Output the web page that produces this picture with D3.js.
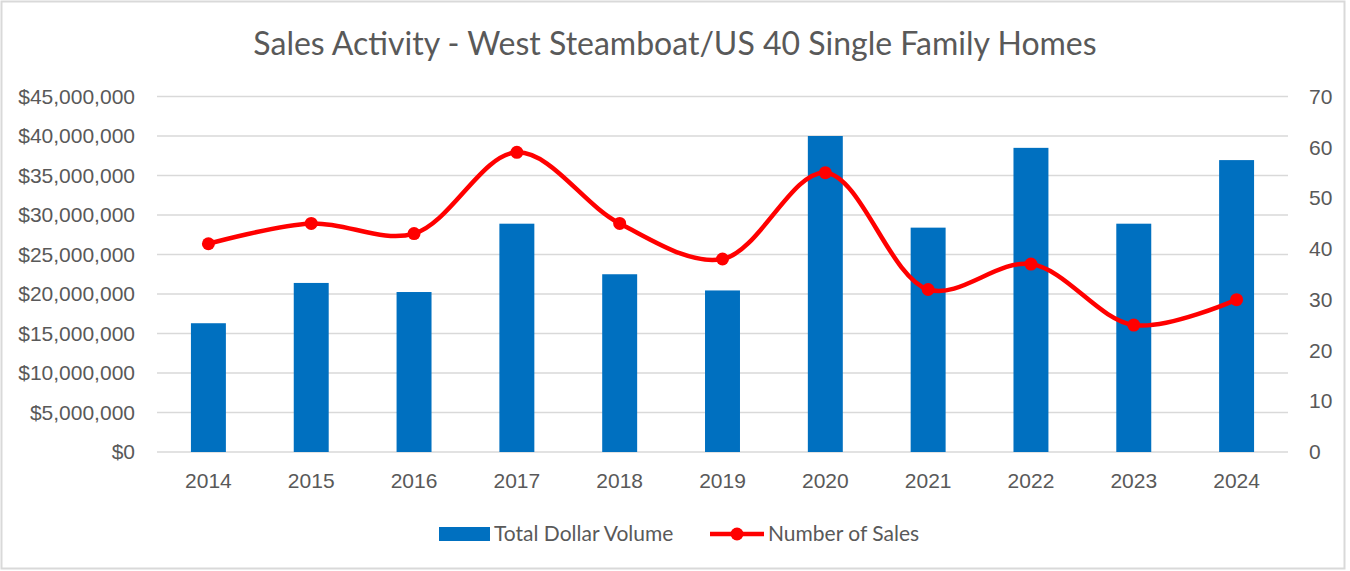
<!DOCTYPE html>
<html>
<head>
<meta charset="utf-8">
<script src="https://cdn.jsdelivr.net/npm/d3@7"></script>
<style>
  body { margin: 0; background: #fff; }
  svg { display: block; }
</style>
</head>
<body>
<div id="chart"></div>
<script>
// Data
const years = ['2014', '2015', '2016', '2017', '2018', '2019', '2020', '2021', '2022', '2023', '2024'];
const dollarVolume = [16300000, 21400000, 20250000, 28900000, 22500000, 20450000, 40000000, 28400000, 38500000, 28900000, 36950000];
const numSales = [41, 45, 43, 59, 45, 38, 55, 32, 37, 25, 30];
const leftTicks = [0, 5e6, 10e6, 15e6, 20e6, 25e6, 30e6, 35e6, 40e6, 45e6];
const rightTicks = [0, 10, 20, 30, 40, 50, 60, 70];

const width = 1350, height = 571;
const margin = {top: 96.5, right: 62, bottom: 119, left: 157};
const plotW = width - margin.left - margin.right;
const plotH = height - margin.top - margin.bottom;

const svg = d3.select('#chart').append('svg')
    .attr('width', width)
    .attr('height', height);

// Outer chart border
svg.append('rect')
    .attr('x', 1.5).attr('y', 1.5)
    .attr('width', 1343).attr('height', 567)
    .attr('fill', '#fff')
    .attr('stroke', '#d9d9d9')
    .attr('stroke-width', 2);

// Title
svg.append('text')
    .attr('x', 675)
    .attr('y', 55)
    .attr('text-anchor', 'middle')
    .style('font-family', 'Lato, "Open Sans", sans-serif')
    .style('font-size', '32px')
    .style('fill', '#595959')
    .text('Sales Activity - West Steamboat/US 40 Single Family Homes');

const g = svg.append('g').attr('transform', `translate(${margin.left},${margin.top})`);

// Scales
const x = d3.scaleBand().domain(years).range([0, plotW]).paddingInner(0.66).paddingOuter(0.33);
const yLeft = d3.scaleLinear().domain([0, 45e6]).range([plotH, 0]);
const yRight = d3.scaleLinear().domain([0, 70]).range([plotH, 0]);

// Gridlines
g.append('g')
    .selectAll('line')
    .data(leftTicks)
    .join('line')
    .attr('x1', 0).attr('x2', plotW)
    .attr('y1', d => yLeft(d)).attr('y2', d => yLeft(d))
    .attr('stroke', '#d9d9d9')
    .attr('stroke-width', 1.5);

const axisFont = '"Liberation Sans", Arial, sans-serif';

// Left axis
const leftAxis = g.append('g')
    .call(d3.axisLeft(yLeft).tickValues(leftTicks).tickSize(0).tickPadding(22)
        .tickFormat(d => '$' + d3.format(',')(d)));
leftAxis.select('.domain').remove();
leftAxis.selectAll('text')
    .style('font-family', axisFont).style('font-size', '21px').style('fill', '#595959');

// Right axis
const rightAxis = g.append('g')
    .attr('transform', `translate(${plotW},0)`)
    .call(d3.axisRight(yRight).tickValues(rightTicks).tickSize(0).tickPadding(21));
rightAxis.select('.domain').remove();
rightAxis.selectAll('text')
    .style('font-family', axisFont).style('font-size', '21px').style('fill', '#595959');

// Bottom axis
const bottomAxis = g.append('g')
    .attr('transform', `translate(0,${plotH})`)
    .call(d3.axisBottom(x).tickSize(0).tickPadding(21));
bottomAxis.select('.domain').remove();
bottomAxis.selectAll('text')
    .style('font-family', axisFont).style('font-size', '21px').style('fill', '#595959');

// Bars
g.selectAll('.bar')
    .data(years.map((y, i) => ({year: y, value: dollarVolume[i]})))
    .join('rect')
    .attr('class', 'bar')
    .attr('x', d => x(d.year))
    .attr('y', d => yLeft(d.value))
    .attr('width', x.bandwidth())
    .attr('height', d => plotH - yLeft(d.value))
    .attr('fill', '#0070c0');

// Smoothed line
const pts = years.map((y, i) => ({year: y, value: numSales[i]}));
const line = d3.line()
    .x(d => x(d.year) + x.bandwidth() / 2)
    .y(d => yRight(d.value))
    .curve(d3.curveCatmullRom.alpha(0.5));

g.append('path')
    .datum(pts)
    .attr('d', line)
    .attr('fill', 'none')
    .attr('stroke', '#ff0000')
    .attr('stroke-width', 4.5)
    .attr('stroke-linejoin', 'round');

g.selectAll('.dot')
    .data(pts)
    .join('circle')
    .attr('class', 'dot')
    .attr('cx', d => x(d.year) + x.bandwidth() / 2)
    .attr('cy', d => yRight(d.value))
    .attr('r', 6.5)
    .attr('fill', '#ff0000');

// Legend
const legendFont = 'Lato, "Open Sans", sans-serif';
const legend = svg.append('g').attr('transform', 'translate(0,534)');
legend.append('rect')
    .attr('x', 439).attr('y', -7)
    .attr('width', 51).attr('height', 14)
    .attr('fill', '#0070c0');
legend.append('text')
    .attr('x', 494).attr('y', 0)
    .attr('dy', '0.35em')
    .style('font-family', legendFont).style('font-size', '21px').style('fill', '#595959')
    .text('Total Dollar Volume');
legend.append('line')
    .attr('x1', 710).attr('x2', 764)
    .attr('y1', 0).attr('y2', 0)
    .attr('stroke', '#ff0000').attr('stroke-width', 4.5);
legend.append('circle')
    .attr('cx', 737).attr('cy', 0).attr('r', 6.5)
    .attr('fill', '#ff0000');
legend.append('text')
    .attr('x', 768).attr('y', 0)
    .attr('dy', '0.35em')
    .style('font-family', legendFont).style('font-size', '21px').style('fill', '#595959')
    .text('Number of Sales');
</script>
</body>
</html>
